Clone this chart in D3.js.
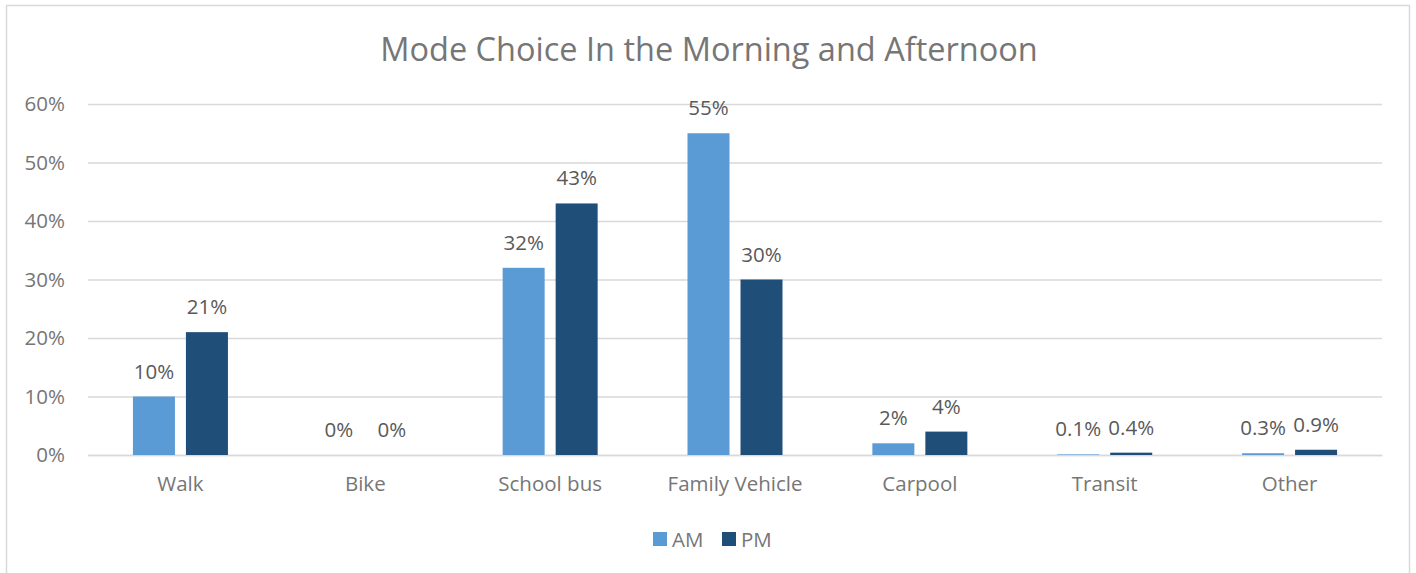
<!DOCTYPE html>
<html>
<head>
<meta charset="utf-8">
<script src="https://cdn.jsdelivr.net/npm/d3@7"></script>
<style>
  body { margin: 0; background: #fff; }
  text { font-family: "Open Sans", sans-serif; }
</style>
</head>
<body>
<div id="container"></div>
<script>
// data
const categories = ["Walk", "Bike", "School bus", "Family Vehicle", "Carpool", "Transit", "Other"];
const series = ["AM", "PM"];
const amValues = [10, 0, 32, 55, 2, 0.1, 0.3];
const pmValues = [21, 0, 43, 30, 4, 0.4, 0.9];
const amLabels = ["10%", "0%", "32%", "55%", "2%", "0.1%", "0.3%"];
const pmLabels = ["21%", "0%", "43%", "30%", "4%", "0.4%", "0.9%"];
const yTicks = [0, 10, 20, 30, 40, 50, 60];
const colors = ["#5B9BD5", "#1F4E79"];

const width = 1416, height = 573;
const margin = { top: 104, bottom: 118, left: 88, right: 34 };
const axisColor = "#767676", labelColor = "#595959";
const fs = 20.5;

const svg = d3.select("#container")
  .append("svg")
  .attr("width", width)
  .attr("height", height);

// chart border
svg.append("rect")
  .attr("x", 6.5).attr("y", 5.5)
  .attr("width", 1403).attr("height", 580)
  .attr("fill", "#fff")
  .attr("stroke", "#D9D9D9")
  .attr("stroke-width", 1.5);

const x = d3.scaleBand()
  .domain(categories)
  .range([margin.left, width - margin.right]);

const barW = 42, barGap = 11;
const xs = d3.scaleBand()
  .domain(series)
  .range([x.bandwidth() / 2 - barW - barGap / 2, x.bandwidth() / 2 + barW + barGap / 2])
  .paddingInner(barGap / (barW + barGap));

const y = d3.scaleLinear()
  .domain([0, 60])
  .range([height - margin.bottom, margin.top]);

// gridlines + y labels
const yAxis = d3.axisLeft(y)
  .tickValues(yTicks)
  .tickSize(-(width - margin.left - margin.right))
  .tickPadding(23)
  .tickFormat(d => d + "%");

svg.append("g")
  .attr("transform", `translate(${margin.left},0)`)
  .call(yAxis)
  .call(g => g.select(".domain").remove())
  .call(g => g.selectAll(".tick line").attr("stroke", "#D9D9D9").attr("stroke-width", 1.3))
  .call(g => g.selectAll(".tick text").attr("font-size", fs).style("font-family", "'Open Sans', sans-serif").attr("fill", axisColor));

// x labels
const xAxis = d3.axisBottom(x).tickSize(0).tickPadding(21);
svg.append("g")
  .attr("transform", `translate(0,${height - margin.bottom})`)
  .call(xAxis)
  .call(g => g.select(".domain").attr("stroke", "#D9D9D9").attr("stroke-width", 1.3))
  .call(g => g.selectAll(".tick text").attr("font-size", fs).style("font-family", "'Open Sans', sans-serif").attr("fill", axisColor));

// bars
const rows = categories.map((c, i) => ({
  cat: c,
  vals: [
    { s: "AM", v: amValues[i], label: amLabels[i] },
    { s: "PM", v: pmValues[i], label: pmLabels[i] }
  ]
}));

const groups = svg.selectAll(".cat")
  .data(rows)
  .join("g")
  .attr("class", "cat")
  .attr("transform", d => `translate(${x(d.cat)},0)`);

groups.selectAll("rect")
  .data(d => d.vals)
  .join("rect")
  .attr("x", d => xs(d.s))
  .attr("width", xs.bandwidth())
  .attr("y", d => y(d.v))
  .attr("height", d => y(0) - y(d.v))
  .attr("fill", (d, i) => colors[i]);

groups.selectAll("text.lbl")
  .data(d => d.vals)
  .join("text")
  .attr("class", "lbl")
  .attr("x", d => xs(d.s) + xs.bandwidth() / 2)
  .attr("y", d => y(d.v) - 18)
  .attr("text-anchor", "middle")
  .attr("font-size", fs)
  .attr("fill", labelColor)
  .text(d => d.label);

// title
svg.append("text")
  .attr("x", width / 2 + 1)
  .attr("y", 61)
  .attr("text-anchor", "middle")
  .attr("font-size", 32.5)
  .attr("fill", axisColor)
  .text("Mode Choice In the Morning and Afternoon");

// legend
const legend = svg.append("g").attr("transform", "translate(653,532)");
const lg = legend.selectAll("g")
  .data(series)
  .join("g")
  .attr("transform", (d, i) => `translate(${i * 69},0)`);
lg.append("rect")
  .attr("width", 14).attr("height", 14)
  .attr("fill", (d, i) => colors[i]);
lg.append("text")
  .attr("x", 19).attr("y", 14.5)
  .attr("font-size", fs)
  .attr("fill", axisColor)
  .text(d => d);
</script>
</body>
</html>
